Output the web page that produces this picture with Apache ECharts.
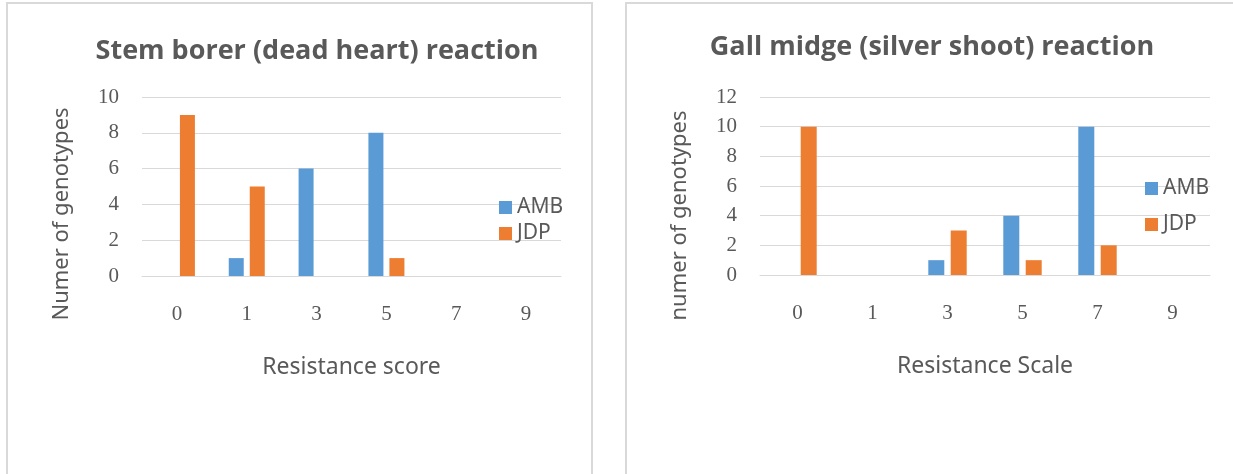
<!DOCTYPE html>
<html lang="en">
<head>
    <meta charset="UTF-8">
    <title>Stem borer and gall midge reaction</title>
    <script src="https://cdn.jsdelivr.net/npm/echarts@6/dist/echarts.min.js"></script>
    <style>
        body {
            margin: 0;
            background-color: #ffffff;
        }
        .panel {
            position: absolute;
            top: 2px;
            height: 520px;
            border: 2px solid #d9d9d9;
            box-sizing: border-box;
        }
        #chart {
            position: absolute;
            left: 0;
            top: 0;
            width: 1233px;
            height: 474px;
        }
    </style>
</head>
<body>
    <div class="panel" style="left:6px; width:587px;"></div>
    <div class="panel" style="left:625px; width:640px;"></div>
    <div id="chart"></div>

    <script>
        // data
        const scoreCategories = ['0', '1', '3', '5', '7', '9'];
        const stemAMB = [0, 1, 6, 8, 0, 0];
        const stemJDP = [9, 5, 0, 1, 0, 0];
        const gallAMB = [0, 0, 1, 4, 10, 0];
        const gallJDP = [10, 0, 3, 1, 2, 0];

        const textGrey = '#595959';
        const lineGrey = '#d9d9d9';
        const blue = '#5b9bd5';
        const orange = '#ed7d31';

        const myChart = echarts.init(document.getElementById('chart'));

        function xAxisFor(idx, name) {
            return {
                type: 'category',
                gridIndex: idx,
                data: scoreCategories,
                axisLine: { lineStyle: { color: lineGrey, width: 1 } },
                axisTick: { show: false },
                axisLabel: { margin: 28, color: textGrey, fontFamily: 'Liberation Serif', fontSize: 21 },
                name: name,
                nameLocation: 'middle',
                nameGap: 80,
                nameTextStyle: { color: textGrey, fontFamily: 'Noto Sans', fontSize: 23 }
            };
        }

        function yAxisFor(idx, max, name, shift) {
            return {
                type: 'value',
                gridIndex: idx,
                min: 0,
                max: max,
                interval: 2,
                axisLine: { show: false },
                axisTick: { show: false },
                splitLine: { lineStyle: { color: lineGrey, width: 1 } },
                axisLabel: { margin: 23, color: textGrey, fontFamily: 'Liberation Serif', fontSize: 21 },
                name: name,
                nameLocation: 'middle',
                nameRotate: 90,
                nameGap: 69,
                nameTextStyle: { color: textGrey, fontFamily: 'Noto Sans', fontSize: 22, padding: [0, shift, 0, 0] }
            };
        }

        function legendAt(left, top, gap) {
            return {
                orient: 'vertical',
                left: left,
                top: top,
                padding: 0,
                itemWidth: 13,
                itemHeight: 13,
                itemGap: gap,
                icon: 'rect',
                data: ['AMB', 'JDP'],
                textStyle: { color: textGrey, fontFamily: 'Noto Sans', fontSize: 21 }
            };
        }

        function barSeries(name, color, idx, values, width) {
            return {
                name: name,
                type: 'bar',
                xAxisIndex: idx,
                yAxisIndex: idx,
                data: values,
                barWidth: width,
                barGap: '40%',
                itemStyle: { color: color }
            };
        }

        const option = {
            animation: false,
            title: [
                {
                    text: 'Stem borer (dead heart) reaction',
                    left: 317,
                    top: 38,
                    padding: 0,
                    textAlign: 'center',
                    textStyle: { color: textGrey, fontFamily: 'Open Sans', fontWeight: 'bold', fontSize: 27 }
                },
                {
                    text: 'Gall midge (silver shoot) reaction',
                    left: 932,
                    top: 34,
                    padding: 0,
                    textAlign: 'center',
                    textStyle: { color: textGrey, fontFamily: 'Open Sans', fontWeight: 'bold', fontSize: 27 }
                }
            ],
            legend: [
                legendAt(499, 197, 5),
                legendAt(1145, 178, 15)
            ],
            grid: [
                { left: 142, top: 97, width: 419, height: 179 },
                { left: 760, top: 97, width: 450, height: 178 }
            ],
            xAxis: [
                xAxisFor(0, 'Resistance score'),
                xAxisFor(1, 'Resistance Scale')
            ],
            yAxis: [
                yAxisFor(0, 10, 'Numer of genotypes', 55),
                yAxisFor(1, 12, 'numer of genotypes', 59)
            ],
            series: [
                barSeries('AMB', blue, 0, stemAMB, 15),
                barSeries('JDP', orange, 0, stemJDP, 15),
                barSeries('AMB', blue, 1, gallAMB, 16),
                barSeries('JDP', orange, 1, gallJDP, 16)
            ]
        };

        myChart.setOption(option);
    </script>
</body>
</html>
